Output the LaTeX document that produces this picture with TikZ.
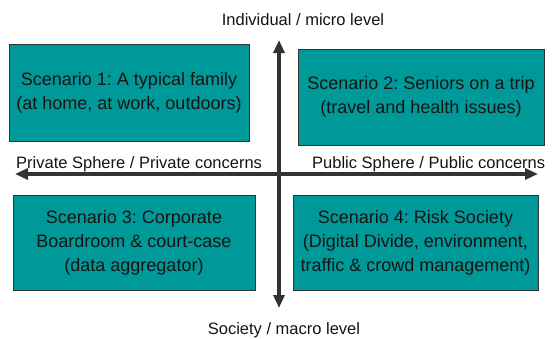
\documentclass[tikz,border=0pt]{standalone}
\usepackage{fontspec}
\setmainfont{Liberation Sans}
\usepackage{xcolor}
\usetikzlibrary{arrows.meta,positioning}
\definecolor{scenteal}{RGB}{0,153,153}
\definecolor{axisgray}{RGB}{51,51,51}
\definecolor{inkblack}{RGB}{20,20,20}
\frenchspacing

\begin{document}
\begin{tikzpicture}[
    x=1pt, y=-1pt,
    box/.style={rectangle, draw=black!80, line width=0.8pt, fill=scenteal, align=center, inner sep=2pt, text=inkblack, font=\fontsize{18}{24}\selectfont},
    axislabel/.style={inner sep=0pt, text=inkblack, font=\fontsize{16.5}{20}\selectfont},
    axis/.style={{Triangle[length=13pt,width=11pt]}-{Triangle[length=13pt,width=11pt]}, line width=3.2pt, draw=axisgray}
]
\useasboundingbox (0,0) rectangle (555,338);

% Axis end points
\coordinate (micro) at (279,40);
\coordinate (macro) at (279,308);
\coordinate (private) at (15,174);
\coordinate (public) at (538,174);

% Scenario boxes
\node[box, minimum width=240pt, minimum height=97pt] (scen1) at (129,92.5) {Scenario 1: A typical family\\(at home, at work, outdoors)};
\node[box, minimum width=246pt, minimum height=96pt] (scen2) at (421,97) {Scenario 2: Seniors on a trip\\(travel and health issues)};
\node[box, minimum width=242pt, minimum height=95pt] (scen3) at (134,242.5) {Scenario 3: Corporate\\Boardroom \& court-case\\(data aggregator)};
\node[box, minimum width=245pt, minimum height=95pt] (scen4) at (415.5,242.5) {Scenario 4: Risk Society\\(Digital Divide, environment,\\traffic \& crowd management)};

% Axes
\draw[axis] (macro) -- (micro);
\draw[axis] (private) -- (public);

% Labels
\node[axislabel, anchor=base] (microlbl) at (303,25) {Individual / micro level};
\node[axislabel, anchor=base] (macrolbl) at (284,334) {Society / macro level};
\node[axislabel, anchor=base west] (privlbl) at (16,168) {Private Sphere / Private concerns};
\node[axislabel, anchor=base west] (publbl) at (312,168) {Public Sphere / Public concerns};

\end{tikzpicture}
\end{document}
